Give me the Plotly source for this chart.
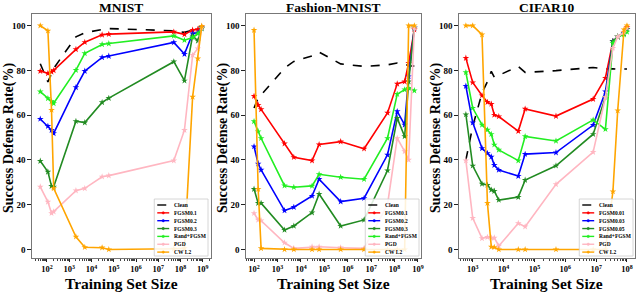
import plotly.graph_objects as go

W, H = 640, 293
FONT = "Liberation Serif"

# ---------------- data ----------------
colors = ["#000000", "#ff0000", "#0000ff", "#228b22", "#22ee22", "#ffb6c1", "#ffa500"]

mnist_x = [50, 110, 160, 200, 2000, 5000, 30000, 60000, 5e7, 1.5e8, 3.5e8, 6e8, 9e8]
mnist_clean = [83, 74.9, 78.5, 80.9, 95, 96.8, 98.3, 98.7, 97.7, 97, 98, 99, 100]
mnist_fgsm01 = [79.7, 78.7, 79.3, 80, 89.4, 92.6, 95.9, 96.2, 97.2, 96.1, 98, 98.4, 99.5]
mnist_fgsm02 = [58.3, 55.1, 53.3, 51.9, 72.4, 79.7, 85.8, 86.4, 92.5, 87.3, 96.5, 96.8, 99]
mnist_fgsm03 = [39.5, 34.7, 28.3, 28, 57.3, 56.7, 65.7, 67.6, 83.9, 75.4, 95.5, 93.2, 98.7]
mnist_rand = [70.5, 67.5, 66.2, 65.3, 80.1, 87.6, 91.6, 92, 95.4, 93.5, 94.7, 96.4, 99]
mnist_pgd = [28, 21.3, 16.2, 16.9, 26.3, 27.3, 32.5, 33, 39.7, 53.3, 86.8, 89.8, 99]
mnist_cw = [100, 97.7, 62.3, 27.3, 5.7, 1, 0.8, 0, 0.3, 0.5, 68.2, 85.3, 99.8]
mnist_labels = ["Clean", "FGSM0.1", "FGSM0.2", "FGSM0.3", "Rand+FGSM", "PGD", "CW L2"]

fmnist_x = [100, 150, 200, 2000, 5000, 30000, 60000, 5e5, 5e6, 5e7, 1.3e8, 2.7e8, 4e8, 7e8]
fmnist_clean = [63.2, 67.7, 69, 81, 84, 86.5, 88.2, 82.9, 81.8, 82.5, 83.3, 83, 82, 82]
fmnist_fgsm01 = [68.5, 64.5, 62.6, 47.3, 41.2, 39.7, 46.9, 48.2, 45, 61, 74, 75, 83.3, 98.2]
fmnist_fgsm02 = [46, 38.3, 35.6, 17.4, 18.9, 23.9, 31.4, 21.4, 22.9, 42.3, 61.7, 55.7, 77.3, 99]
fmnist_fgsm03 = [27, 20.7, 20.7, 8.7, 10.5, 16.5, 24.8, 10.5, 13.2, 35.3, 58.7, 50.5, 75, 99]
fmnist_rand = [57.2, 52.7, 49.7, 28.5, 27.8, 28.4, 33.6, 32.3, 31.4, 49.7, 69.4, 71.4, 72.1, 71]
fmnist_pgd = [16.2, 13.2, 12.9, 3, 0.5, 1.2, 1.2, 0.8, 0.5, 20, 49.7, 43.8, 40, 99]
fmnist_cw = [98, 27, 0.5, 0, 0, 0, 0, 0, 0, 0, 0, 0, 100, 100]
fmnist_labels = ["Clean", "FGSM0.1", "FGSM0.2", "FGSM0.3", "Rand+FGSM", "PGD", "CW L2"]

cifar_x = [600, 1000, 2000, 3000, 4000, 5000, 7000, 30000, 50000, 5e5, 8e6, 2e7, 3.5e7, 5e7, 8e7, 1e8]
cifar_clean = [40, 55, 69.9, 75, 79.6, 77, 77.8, 81.8, 79.1, 79.9, 81.3, 80.6, 80.7, 80.5, 80.6, 80.6]
cifar_fgsm001 = [85.5, 74.6, 68.8, 65.8, 65, 60.1, 59.4, 52.9, 62.8, 59.6, 67.2, 76.6, 93, 95, 97, 99.4]
cifar_fgsm003 = [73, 56.7, 45.2, 43, 41.4, 37.7, 35.5, 32.8, 42.6, 43.3, 55.6, 70.5, 93, 95, 96.5, 98.5]
cifar_fgsm005 = [60.3, 37.4, 29.3, 28.8, 26.6, 26.1, 22.1, 23.4, 31, 37.4, 51.5, 68, 93, 95, 96.5, 98.5]
cifar_rand = [79.1, 63.2, 55.7, 53.5, 51.5, 46.8, 44.5, 39.7, 50.5, 48.5, 57.9, 53.7, 92.2, 95, 96, 97.2]
cifar_pgd = [39.7, 14, 5, 5.5, 5.2, 5.2, 1.6, 11.7, 10.2, 29.1, 43.5, 68, 90, 95, 97, 99]
cifar_cw = [100, 100, 96, 20.7, 1.2, 1, 0, 0, 0, 0, 0, 0, 25.9, 62, 98.2, 100]
cifar_labels = ["Clean", "FGSM0.01", "FGSM0.03", "FGSM0.05", "Rand+FGSM", "PGD", "CW L2"]

titles = ["MNIST", "Fashion-MNIST", "CIFAR10"]
y_ticks = [0, 20, 40, 60, 80, 100]

panels = [
    dict(x=mnist_x, ys=[mnist_clean, mnist_fgsm01, mnist_fgsm02, mnist_fgsm03, mnist_rand, mnist_pgd, mnist_cw],
         labels=mnist_labels, title=titles[0], xexp=list(range(2, 10)),
         px=(32, 212), xr=(1.32, 9.37), leg=(155, 199)),
    dict(x=fmnist_x, ys=[fmnist_clean, fmnist_fgsm01, fmnist_fgsm02, fmnist_fgsm03, fmnist_rand, fmnist_pgd, fmnist_cw],
         labels=fmnist_labels, title=titles[1], xexp=list(range(2, 10)),
         px=(247, 423), xr=(1.65, 9.13), leg=(367, 199)),
    dict(x=cifar_x, ys=[cifar_clean, cifar_fgsm001, cifar_fgsm003, cifar_fgsm005, cifar_rand, cifar_pgd, cifar_cw],
         labels=cifar_labels, title=titles[2], xexp=list(range(3, 9)),
         px=(461, 638), xr=(2.55, 8.26), leg=(582, 199)),
]

PLOT_TOP, PLOT_BOT = 14, 258
YR = (-3.8, 105.2)

def fx(p):
    return p / W

def fy(p):
    return 1 - p / H

fig = go.Figure()
shapes = []
annotations = []

for i, pn in enumerate(panels):
    k = "" if i == 0 else str(i + 1)
    xa, ya = "x" + k, "y" + k
    for j, yv in enumerate(pn["ys"]):
        if j == 0:
            fig.add_trace(go.Scatter(x=pn["x"], y=yv, mode="lines", xaxis=xa, yaxis=ya,
                                     line=dict(color=colors[j], width=1.6, dash="dash"),
                                     showlegend=False, name=pn["labels"][j]))
        else:
            fig.add_trace(go.Scatter(x=pn["x"], y=yv, mode="lines+markers", xaxis=xa, yaxis=ya,
                                     line=dict(color=colors[j], width=1.6),
                                     marker=dict(symbol="star", size=5, color=colors[j]),
                                     showlegend=False, name=pn["labels"][j]))
    dom_x = [fx(pn["px"][0]), fx(pn["px"][1])]
    dom_y = [fy(PLOT_BOT), fy(PLOT_TOP)]
    fig.layout["xaxis" + k] = dict(
        type="log", domain=dom_x, range=list(pn["xr"]), anchor=ya,
        tickmode="array", tickvals=[10 ** e for e in pn["xexp"]],
        ticktext=["10<sup>%d</sup>" % e for e in pn["xexp"]],
        ticks="outside", ticklen=3, tickcolor="#222", tickwidth=1,
        minor=dict(ticks="outside", ticklen=2, dtick="D1", tickcolor="#444", tickwidth=0.7),
        showline=True, linecolor="#777", linewidth=1, mirror=True,
        showgrid=False, zeroline=False,
        tickfont=dict(family=FONT, size=8.5, color="black", weight="bold"),
    )
    fig.layout["yaxis" + k] = dict(
        domain=dom_y, range=list(YR), anchor=xa,
        tickmode="array", tickvals=y_ticks,
        ticks="outside", ticklen=3.5, tickcolor="#222", tickwidth=1,
        showline=True, linecolor="#777", linewidth=1, mirror=True,
        showgrid=False, zeroline=False,
        tickfont=dict(family=FONT, size=9, color="black", weight="bold"),
    )
    cx = (pn["px"][0] + pn["px"][1]) / 2
    annotations.append(dict(text="<b>%s</b>" % pn["title"], x=fx(cx), y=fy(7.5), xref="paper", yref="paper",
                            showarrow=False, xanchor="center", yanchor="middle",
                            font=dict(family=FONT, size=13.5, color="black")))
    annotations.append(dict(text="<b>Training Set Size</b>", x=fx(cx), y=fy(283), xref="paper", yref="paper",
                            showarrow=False, xanchor="center", yanchor="middle",
                            font=dict(family=FONT, size=15.5, color="black")))
    annotations.append(dict(text="<b>Success Defense Rate(%)</b>", x=fx(pn["px"][0] - 23), y=fy(138),
                            xref="paper", yref="paper", textangle=-90,
                            showarrow=False, xanchor="center", yanchor="middle",
                            font=dict(family=FONT, size=14, color="black")))
    # legend box
    lx, ly = pn["leg"]
    lw, lh = 54, 57
    shapes.append(dict(type="rect", xref="paper", yref="paper", x0=fx(lx), x1=fx(lx + lw),
                       y0=fy(ly + lh), y1=fy(ly), line=dict(color="#cccccc", width=0.8),
                       fillcolor="rgba(255,255,255,0.85)", layer="above"))
    for j, lab in enumerate(pn["labels"]):
        yy = ly + 6 + 7.85 * j
        shapes.append(dict(type="line", xref="paper", yref="paper", x0=fx(lx + 3), x1=fx(lx + 15),
                           y0=fy(yy), y1=fy(yy), layer="above",
                           line=dict(color=colors[j], width=1.4, dash="dash" if j == 0 else "solid")))
        if j > 0:
            shapes.append(dict(type="circle", xref="paper", yref="paper", x0=fx(lx + 7.8), x1=fx(lx + 10.2),
                               y0=fy(yy + 1.2), y1=fy(yy - 1.2), layer="above",
                               fillcolor=colors[j], line=dict(color=colors[j], width=0.5)))
        annotations.append(dict(text="<b>%s</b>" % lab, x=fx(lx + 18), y=fy(yy), xref="paper", yref="paper",
                                showarrow=False, xanchor="left", yanchor="middle",
                                font=dict(family=FONT, size=5.5, color="black")))

fig.update_layout(
    width=W, height=H, margin=dict(l=0, r=0, t=0, b=0),
    paper_bgcolor="white", plot_bgcolor="white",
    showlegend=False, shapes=shapes, annotations=annotations,
    font=dict(family=FONT, color="black"),
)

fig.write_html("out.html", config={"displayModeBar": False},
               post_script="document.body.style.margin='0';document.body.style.overflow='hidden';")
